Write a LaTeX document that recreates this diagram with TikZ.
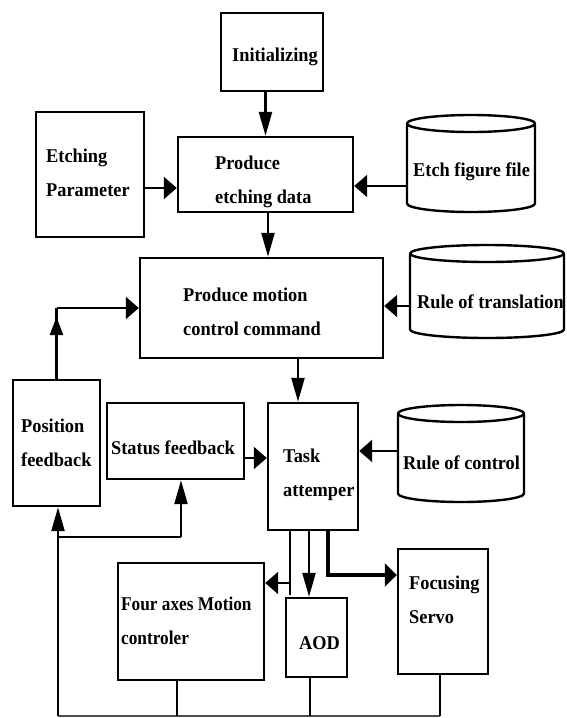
\documentclass[tikz,border=0pt]{standalone}
\usepackage{fontspec}
\setmainfont[FakeStretch=0.94]{Liberation Serif}
\newfontfamily\condfont[FakeStretch=0.885]{Liberation Serif}
\usetikzlibrary{arrows.meta}
\newcommand{\mycyl}[3]{%
  \draw[boxline] ([yshift=-#3]#1.north) ellipse [x radius=#2, y radius=#3];
  \draw[boxline] ([yshift=-#3]#1.north west) -- ([yshift=#3]#1.south west)
     arc[start angle=180, end angle=360, x radius=#2, y radius=#3] -- ([yshift=-#3]#1.north east);}
\begin{document}
\begin{tikzpicture}[x=1pt,y=1pt,
  boxline/.style={line width=2.4pt, line join=round},
  box/.style={draw, line width=2.4pt, inner sep=0pt},
  cylnode/.style={draw=none, inner sep=0pt, outer sep=0pt},
  txt/.style={inner sep=0pt, anchor=west, align=left,
     font=\fontsize{19.5pt}{34pt}\selectfont\bfseries},
  line/.style={line width=2.3pt},
  thinline/.style={line width=1.3pt},
  varr/.style={line width=2.3pt, -{Triangle[length=24pt,width=13pt]}},
  harr/.style={line width=2.3pt, -{Triangle[length=13pt,width=22pt]}}]
\useasboundingbox (0,0) rectangle (567,-718);
\fill[white] (0,0) rectangle (567,-718);

% boxes
\node[box, minimum width=102pt, minimum height=78pt] (init) at (272,-52) {};
\node[box, minimum width=108pt, minimum height=125pt] (param) at (90,-174.5) {};
\node[box, minimum width=175pt, minimum height=75pt] (ped) at (265.5,-174.5) {};
\node[cylnode, minimum width=128pt, minimum height=97pt] (etch) at (471,-163.5) {};
\node[box, minimum width=243pt, minimum height=100pt] (pm) at (261.5,-308) {};
\node[cylnode, minimum width=154pt, minimum height=93pt] (trans) at (487,-291.5) {};
\node[box, minimum width=87pt, minimum height=126pt] (pos) at (56.5,-443) {};
\node[box, minimum width=137pt, minimum height=76pt] (stat) at (175.5,-441) {};
\node[box, minimum width=90pt, minimum height=127pt] (task) at (313,-466.5) {};
\node[cylnode, minimum width=126pt, minimum height=97pt] (ctrl) at (461,-453.5) {};
\node[box, minimum width=146pt, minimum height=117pt] (four) at (191,-621.5) {};
\node[box, minimum width=61pt, minimum height=79pt] (aod) at (316.5,-637.5) {};
\node[box, minimum width=90pt, minimum height=125pt] (focus) at (443,-611.5) {};

\mycyl{etch}{64pt}{8.5pt}
\mycyl{trans}{77pt}{8.5pt}
\mycyl{ctrl}{63pt}{8.5pt}

% texts
\node[txt] (tinit) at (232,-57) {Initializing};
\node[txt] (tparam) at (46,-172.5) {Etching\\Parameter};
\node[txt] (tped) at (215,-181.5) {Produce\\etching data};
\node[txt] (tetch) at (413,-172) {Etch figure file};
\node[txt] (tpm) at (183,-311.5) {Produce motion\\control command};
\node[txt] (ttrans) at (417,-302) {Rule of translation};
\node[txt] (tpos) at (21,-442.5) {Position\\feedback};
\node[txt] (tstat) at (111,-448) {Status feedback};
\node[txt] (ttask) at (283,-475) {Task\\attemper};
\node[txt] (tctrl) at (403,-463) {Rule of control};
\node[txt, font=\fontsize{19.5pt}{34pt}\condfont\bfseries] (tfour) at (121,-621) {Four axes Motion\\controler};
\node[txt] (taod) at (299,-643) {AOD};
\node[txt] (tfocus) at (409,-600) {Focusing\\Servo};

% coordinates
\coordinate (c1) at (56.5,-308);
\coordinate (c2) at (58,-537);
\coordinate (b1) at (58,-716);
\coordinate (b2) at (440,-716);
\coordinate (j1) at (290,-595);
\coordinate (j2) at (290,-583);
\coordinate (j3) at (328,-575);

% connectors
\draw[varr] (ped.north |- init.south) -- (ped.north);
\draw[harr] (param.east |- 0,-188) -- (ped.west |- 0,-188);
\draw[harr] (etch.west |- 0,-186) -- (ped.east |- 0,-186);
\draw[varr] (ped.south -| 268,0) -- (pm.north -| 268,0);
\draw[harr] (trans.west |- 0,-306) -- (pm.east |- 0,-306);
\draw[line] (pos.north) -- (c1);
\draw[line, -{Triangle[length=18pt,width=13pt]}] (pos.north) -- ([yshift=-9pt]c1);
\draw[harr] (c1) -- (pm.west |- c1);
\draw[harr] (stat.east |- 0,-458) -- (task.west |- 0,-458);
\draw[varr] (pm.south -| 298,0) -- (task.north -| 298,0);
\draw[harr] (ctrl.west |- 0,-451) -- (task.east |- 0,-451);
\draw[line] (task.south -| j1) -- (j1);
\draw[harr] (j2) -- (four.east |- j2);
\draw[varr] (task.south -| 309,0) -- (aod.north -| 309,0);
\draw[line width=4pt, -{Triangle[length=12pt,width=23pt]}] (task.south -| j3) -- (j3) -- (focus.west |- j3);

% bottom feedback
\draw[line width=1.2pt, black!70] (b1) -- (b2);
\draw[line] (four.south -| 177,0) -- (177,-716);
\draw[thinline] (aod.south -| 310,0) -- (310,-716);
\draw[line] (focus.south -| b2) -- (b2);
\draw[varr] (b1) -- (pos.south -| b1);
\draw[line] (c2) -- (181,-537);
\draw[varr] (181,-537) -- (stat.south -| 181,0);
\end{tikzpicture}
\end{document}
